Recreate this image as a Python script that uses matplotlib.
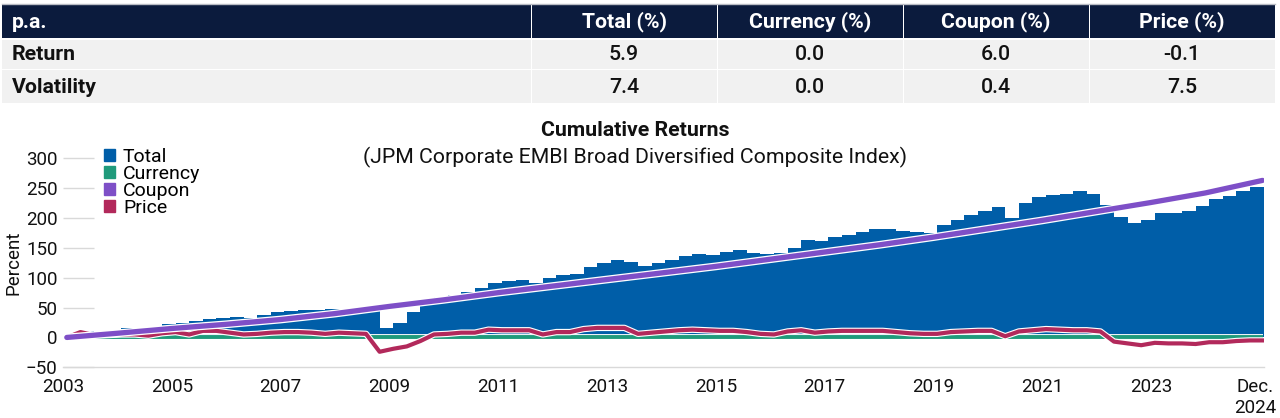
import matplotlib
matplotlib.use("Agg")
import matplotlib.pyplot as plt
import matplotlib.patheffects as pe
from matplotlib.patches import Rectangle, Patch
import numpy as np

plt.rcParams['font.family'] = ['Roboto', 'DejaVu Sans']

# ---- table data ----
col_labels = ["p.a.", "Total (%)", "Currency (%)", "Coupon (%)", "Price (%)"]
row_labels = ["Return", "Volatility"]
table_vals = [["5.9", "0.0", "6.0", "-0.1"],
              ["7.4", "0.0", "0.4", "7.5"]]

# ---- chart data (cumulative %) ----
# quarterly total return, first quarter starts early Feb 2003
q_start = 2003.07
total = [3, 10, 8, 11, 15, 11, 18, 23, 25, 28, 31, 32,
         34, 33, 37, 42, 44, 46, 46, 48, 48, 49, 44, 16,
         24, 42, 62, 67, 71, 76, 83, 91, 95, 97, 91, 99,
         105, 107, 118, 125, 129, 126, 119, 124, 130, 137, 139, 138,
         143, 146, 142, 139, 141, 150, 164, 161, 168, 172, 176, 182,
         181, 179, 177, 175, 189, 196, 205, 211, 219, 200, 225, 235,
         238, 240, 245, 241, 222, 202, 192, 196, 208, 209, 211, 220,
         232, 237, 245, 252]
# price return at start and each quarter end
price = [0, 9, 4, 4, 5, 5, 3, 7, 9, 5, 11, 11, 8,
         5, 6, 8, 9, 9, 8, 6, 8, 7, 6, -24, -19,
         -15, -6, 5, 6, 8, 8, 13, 12, 12, 12, 5, 9,
         9, 14, 16, 16, 16, 6, 8, 10, 12, 13, 12, 11,
         11, 9, 6, 5, 10, 12, 8, 10, 11, 11, 11, 11,
         9, 7, 6, 6, 9, 10, 11, 11, 2, 10, 12, 14,
         13, 12, 12, 10, -7, -10, -13, -9, -10, -10, -11, -8,
         -8, -6, -5, -5]
# coupon return, yearly points
coupon_x = [2003.07, 2004, 2005, 2006, 2007, 2008, 2009, 2010, 2011, 2012, 2013, 2014,
            2015, 2016, 2017, 2018, 2019, 2020, 2021, 2022, 2023, 2024, 2025.05]
coupon = [0, 7, 15, 22, 30, 40, 52, 63, 75, 86, 97, 108,
          119, 131, 143, 155, 168, 182, 196, 211, 226, 242, 263]
currency = [0.0, 0.0, 0.0, 0.0, 0.0, 0.0, 0.0, 0.0, 0.0, 0.0, 0.0, 0.0,
            0.0, 0.0, 0.0, 0.0, 0.0, 0.0, 0.0, 0.0, 0.0, 0.0, 0.0]

year_ticks = [2003, 2005, 2007, 2009, 2011, 2013, 2015, 2017, 2019, 2021, 2023, 2024.92]
year_labels = ["2003", "2005", "2007", "2009", "2011", "2013", "2015", "2017",
               "2019", "2021", "2023", "Dec.\n2024"]

NAVY = "#0b1b3d"
ROWBG = "#f1f1f1"
BLUE = "#005ea8"
GREEN = "#1f9a7b"
PURPLE = "#7e4fc7"
RED = "#b2295b"

W, H = 1280, 418
fig = plt.figure(figsize=(W / 100, H / 100), dpi=100)

# ===== table drawn in pixel coordinates =====
tab = fig.add_axes([0, 0, 1, 1])
tab.set_xlim(0, W)
tab.set_ylim(H, 0)
tab.axis("off")
col_edges = [2, 531, 717, 903, 1089, 1275]
row_edges = [(4, 38), (39.5, 68.5), (70, 103)]
tab.plot([2, 1275], [3.5, 3.5], color="#b9bcc4", lw=1)
for r, (y0, y1) in enumerate(row_edges):
    for c in range(5):
        x0, x1 = col_edges[c], col_edges[c + 1]
        tab.add_patch(Rectangle((x0 + (1 if c else 0), y0), x1 - x0 - (1 if c else 0), y1 - y0,
                                facecolor=NAVY if r == 0 else ROWBG, edgecolor="none"))
        yc = (y0 + y1) / 2 + 1
        if r == 0:
            txt = col_labels[c]
            color, weight = "white", "bold"
        elif c == 0:
            txt = row_labels[r - 1]
            color, weight = "#111111", "bold"
        else:
            txt = table_vals[r - 1][c - 1]
            color, weight = "#111111", "medium"
        if c == 0:
            tab.text(x0 + 10, yc, txt, ha="left", va="center", fontsize=15.3,
                     color=color, fontweight=weight)
        else:
            tab.text((x0 + x1) / 2, yc, txt, ha="center", va="center", fontsize=15.3,
                     color=color, fontweight=weight)

# ===== chart =====
ax_l, ax_r, ax_b, ax_t = 63, 1264, 367.3, 158.3
ax = fig.add_axes([ax_l / W, 1 - ax_b / H, (ax_r - ax_l) / W, (ax_b - ax_t) / H])
ax.set_xlim(2003.0, 2003.0 + (ax_r - ax_l) / 54.4)
ax.set_ylim(-50, 300)

edges = q_start + 0.25 * np.arange(len(total) + 1)
ax.stairs(total, edges, fill=True, baseline=0, color=BLUE, zorder=2)

halo = lambda w: [pe.Stroke(linewidth=w, foreground="white"), pe.Normal()]
ax.plot(coupon_x, currency, color=GREEN, lw=2.8, zorder=3, path_effects=halo(4.2),
        solid_capstyle="butt")
ax.plot(edges, price, color=RED, lw=3.0, zorder=4, path_effects=halo(4.6),
        solid_joinstyle="round")
ax.plot(coupon_x, coupon, color=PURPLE, lw=3.8, zorder=5, path_effects=halo(5.6),
        solid_capstyle="round")

ax.set_yticks(np.arange(-50, 301, 50))
ax.set_xticks(year_ticks)
ax.set_xticklabels(year_labels)
ax.tick_params(axis="y", direction="in", length=22, width=1, color="#d9d9d9",
               labelsize=13.5, pad=4, labelcolor="#111111")
ax.tick_params(axis="x", length=0, labelsize=13.5, pad=8, labelcolor="#111111")
for s in ["top", "right", "left"]:
    ax.spines[s].set_visible(False)
ax.spines["bottom"].set_color("#d9d9d9")
ax.spines["bottom"].set_linewidth(1)

fig.text(13 / W, 1 - 263 / H, "Percent", rotation=90, ha="center", va="center",
         fontsize=13.5, color="#111111")

handles = [Patch(color=BLUE, label="Total"), Patch(color=GREEN, label="Currency"),
           Patch(color=PURPLE, label="Coupon"), Patch(color=RED, label="Price")]
fig.legend(handles=handles, loc="upper left", bbox_to_anchor=(104 / W, 1 - 148 / H),
           frameon=False, fontsize=14, handlelength=0.58, handleheight=0.58,
           handletextpad=0.4, labelspacing=-0.05, borderpad=0, borderaxespad=0)

fig.text(635 / W, 1 - 130 / H, "Cumulative Returns", ha="center", va="center",
         fontsize=15.3, fontweight="bold", color="#111111")
fig.text(635 / W, 1 - 157 / H, "(JPM Corporate EMBI Broad Diversified Composite Index)",
         ha="center", va="center", fontsize=15.3, color="#111111")

fig.savefig("out.png", dpi=100)
